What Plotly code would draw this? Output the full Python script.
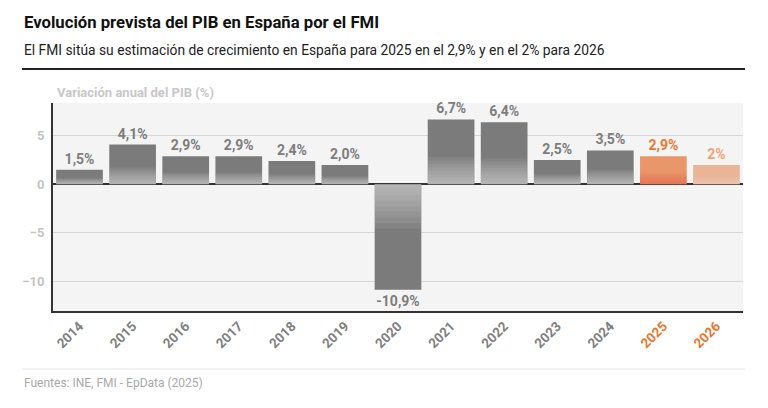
import numpy as np
import plotly.graph_objects as go

# datos
years = ["2014", "2015", "2016", "2017", "2018", "2019", "2020",
         "2021", "2022", "2023", "2024", "2025", "2026"]
pib = [1.5, 4.1, 2.9, 2.9, 2.4, 2.0, -10.9, 6.7, 6.4, 2.5, 3.5, 2.9, 2.0]
labels = ["1,5%", "4,1%", "2,9%", "2,9%", "2,4%", "2,0%", "-10,9%",
          "6,7%", "6,4%", "2,5%", "3,5%", "2,9%", "2%"]

GRAY = "#7b7b7b"
bar_colors = [GRAY] * 11 + ["#e9976a", "#eab597"]
text_colors = ["#7d7d7d"] * 11 + ["#e8792f", "#efa476"]
tick_colors = ["#808080"] * 11 + ["#e8782f", "#e8782f"]

# geometria (px)
W, H = 768, 408
T, B, L, R = 103, 97, 53, 25
PH = H - T - B
PW = W - L - R


def py(px_y):
    return 1 - (px_y - T) / PH


def px_x(px):
    return (px - L) / PW


fig = go.Figure()
fig.add_trace(go.Bar(
    x=years, y=pib, marker_color=bar_colors, marker_line_width=0,
    text=labels, textposition="outside", cliponaxis=False,
    textfont=dict(family="Roboto", size=14, color=text_colors, weight="bold"),
    width=0.88, hoverinfo="skip",
))

# degradado en el 40% inferior de cada barra (capas semitransparentes)
vals = np.array(pib)
grad_cols = ["rgba(255,255,255,0.07)"] * 11 + ["rgba(226,88,80,0.08)", "rgba(255,255,255,0.03)"]
for f in np.linspace(0.05, 0.42, 8):
    fig.add_trace(go.Bar(x=years, y=vals * f, marker_color=grad_cols, marker_line_width=0,
                         width=0.88, hoverinfo="skip"))

fig.update_layout(
    width=W, height=H, barmode="overlay", showlegend=False,
    paper_bgcolor="white", plot_bgcolor="#f4f4f4",
    margin=dict(l=L, r=R, t=T, b=B, autoexpand=False),
    font=dict(family="Roboto", color="#333"),
)
fig.update_yaxes(
    range=[-13.1, 8.4], tickvals=[-10, -5, 0, 5], automargin=False,
    gridcolor="#d6d6d6", gridwidth=1,
    zeroline=True, zerolinecolor="#333", zerolinewidth=2,
    showline=True, linecolor="#333", linewidth=2,
    tickfont=dict(family="Roboto", size=13, color="#c4c4c4", weight="bold"),
    ticklabelstandoff=4,
)
fig.update_xaxes(
    showline=True, linecolor="#333", linewidth=2, automargin=False,
    tickangle=-45, tickvals=years,
    ticktext=[f"<span style='color:{c}'>{y}</span>" for y, c in zip(years, tick_colors)],
    tickfont=dict(family="Roboto", size=13.5, color="#808080", weight="bold"),
    ticklabelstandoff=0,
    showgrid=False,
)

x0 = px_x(22)
x1 = px_x(745)
fig.add_annotation(text="<b>Evolución prevista del PIB en España por el FMI</b>",
                   xref="paper", yref="paper", x=x0, y=py(22),
                   xanchor="left", yanchor="middle", showarrow=False,
                   font=dict(family="Roboto", size=16.7, color="#111", weight=900))
fig.add_annotation(text="El FMI sitúa su estimación de crecimiento en España para 2025 en el 2,9% y en el 2% para 2026",
                   xref="paper", yref="paper", x=x0, y=py(50),
                   xanchor="left", yanchor="middle", showarrow=False,
                   font=dict(family="Roboto", size=13.8, color="#222"))
fig.add_annotation(text="<b>Variación anual del PIB (%)</b>",
                   xref="paper", yref="paper", x=px_x(55), y=py(93),
                   xanchor="left", yanchor="middle", showarrow=False,
                   font=dict(family="Roboto", size=13, color="#c8c8c8"))
fig.add_annotation(text="Fuentes: INE, FMI - EpData (2025)",
                   xref="paper", yref="paper", x=x0, y=py(383),
                   xanchor="left", yanchor="middle", showarrow=False,
                   font=dict(family="Roboto", size=12, color="#aaaaaa"))

fig.add_shape(type="line", xref="paper", yref="paper", x0=x0, x1=x1,
              y0=py(69), y1=py(69), line=dict(color="#222", width=2))
fig.add_shape(type="line", xref="paper", yref="paper", x0=x0, x1=x1,
              y0=py(369), y1=py(369), line=dict(color="#eeeeee", width=1.5))

fig.write_html("out.html", config={"displayModeBar": False},
               post_script="document.body.style.margin='0';")
